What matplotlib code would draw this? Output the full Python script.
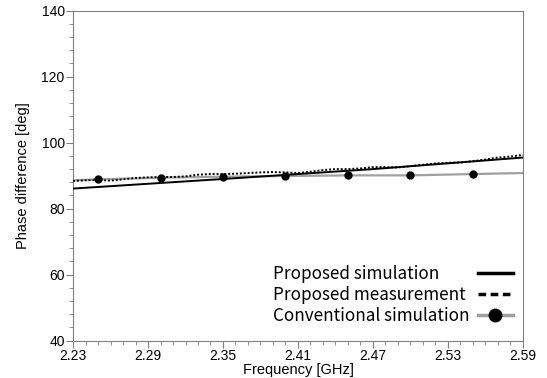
import matplotlib
matplotlib.use('Agg')
import matplotlib.pyplot as plt
from matplotlib.ticker import MultipleLocator
import numpy as np

# proposed simulation (solid)
sim_f = [2.23, 2.35, 2.47, 2.59]
sim_phase = [86.1, 89.0, 92.0, 95.5]

# proposed measurement (dotted)
meas_f = [2.23, 2.24, 2.25, 2.26, 2.27, 2.28, 2.29, 2.30, 2.31, 2.32, 2.33, 2.34,
          2.35, 2.36, 2.37, 2.38, 2.39, 2.40, 2.41, 2.42, 2.43, 2.44, 2.45, 2.46,
          2.47, 2.48, 2.49, 2.50, 2.51, 2.52, 2.53, 2.54, 2.55, 2.56, 2.57, 2.58, 2.59]
meas_phase = [88.4, 88.6, 88.7, 88.5, 88.9, 89.3, 89.5, 89.6, 89.6, 89.8, 90.3, 90.5,
              90.5, 90.6, 90.8, 91.0, 91.1, 91.0, 90.8, 91.2, 91.7, 92.0, 92.0, 92.2,
              92.6, 92.6, 92.5, 92.9, 93.3, 93.7, 93.9, 94.0, 94.4, 94.9, 95.5, 95.8, 96.3]

# conventional simulation (gray line, markers every 0.05 GHz)
conv_f = [2.23, 2.25, 2.30, 2.35, 2.40, 2.45, 2.50, 2.55, 2.59]
conv_phase = [88.6, 88.9, 89.4, 89.7, 89.9, 90.1, 90.1, 90.5, 90.8]

xticks = [2.23, 2.29, 2.35, 2.41, 2.47, 2.53, 2.59]
yticks = [40, 60, 80, 100, 120, 140]

plt.rcParams['font.family'] = ['Liberation Sans', 'DejaVu Sans']

fig = plt.figure(figsize=(5.47, 3.78), dpi=100)
ax = fig.add_axes([0.1335, 0.0987, 0.8225, 0.873])

ax.plot(conv_f, conv_phase, color='#a0a0a0', lw=1.6, marker='o', markersize=5,
        markerfacecolor='black', markeredgecolor='black', markevery=list(range(1, 8)),
        label='Conventional simulation', zorder=2)
ax.plot(sim_f, sim_phase, color='black', lw=1.4, label='Proposed simulation', zorder=3)
ax.plot(meas_f, meas_phase, color='black', lw=1.4, linestyle=(0, (1, 1)),
        label='Proposed measurement', zorder=4)

ax.set_xlim(2.23, 2.59)
ax.set_ylim(40, 140)
ax.set_xticks(xticks)
ax.set_xticklabels([f'{t:.2f}' for t in xticks])
ax.set_yticks(yticks)
ax.xaxis.set_minor_locator(MultipleLocator(0.01))
ax.yaxis.set_minor_locator(MultipleLocator(4))
ax.tick_params(which='major', length=5, color='#808080', labelsize=10, pad=1)
ax.tick_params(which='minor', length=3, color='#808080')
for s in ax.spines.values():
    s.set_color('#808080')

ax.set_xlabel('Frequency [GHz]', fontsize=10.5, labelpad=0)
ax.set_ylabel('Phase difference [deg]', fontsize=10.5, labelpad=8)

handles, labels = ax.get_legend_handles_labels()
order = [1, 2, 0]
leg = ax.legend([handles[i] for i in order], [labels[i] for i in order],
                loc='lower right', frameon=False, markerfirst=False,
                prop={'family': ['Noto Sans CJK KR', 'DejaVu Sans'], 'size': 12.3},
                handlelength=2.05, labelspacing=0.15, borderaxespad=0.2,
                bbox_to_anchor=(1.0, 0.018))
leg_lines = leg.get_lines()
leg_lines[0].set_linewidth(2.5)
leg_lines[1].set_linestyle((0, (2.2, 1.3)))
leg_lines[1].set_linewidth(2.5)
leg_lines[2].set_markersize(9)
leg_lines[2].set_linewidth(2.5)
leg_lines[2].set_color('#a0a0a0')

# left-align the legend labels and push the handles to the right edge
for column in leg._legend_handle_box.get_children():
    column.align = 'left'
    for item in column.get_children():
        item.width = 240
        item.mode = 'expand'

fig.savefig('out.png', dpi=100)
